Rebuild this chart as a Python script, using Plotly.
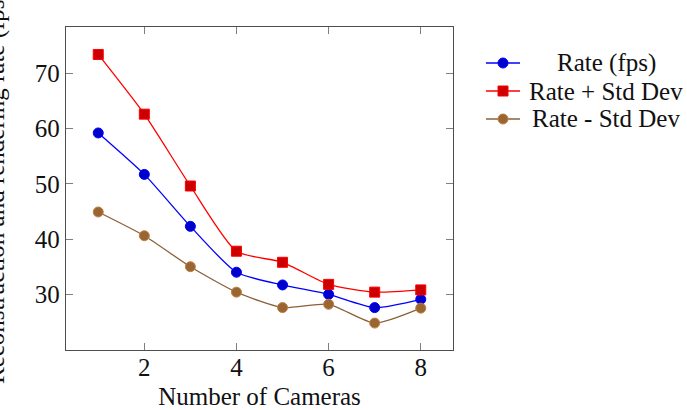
import plotly.graph_objects as go

cameras = [1, 2, 3, 4, 5, 6, 7, 8]
rate = [59.2, 51.7, 42.3, 34.0, 31.7, 30.0, 27.6, 29.1]
rate_plus = [73.4, 62.6, 49.6, 37.8, 35.8, 31.8, 30.4, 30.8]
rate_minus = [44.9, 40.6, 35.0, 30.4, 27.6, 28.2, 24.8, 27.5]

series_names = ["Rate (fps)", "Rate + Std Dev", "Rate - Std Dev"]
x_ticks = [2, 4, 6, 8]
y_ticks = [30, 40, 50, 60, 70]

FONT = "serif"
FS = 25

styles = [
    dict(line="#0000ff", fill="#0000cc", edge="#0000ff", symbol="circle"),
    dict(line="#ff0000", fill="#cc0000", edge="#ff0000", symbol="square"),
    dict(line="#8b6038", fill="#996633", edge="#bf8040", symbol="circle"),
]

fig = go.Figure()
for name, ys, st in zip(series_names, [rate, rate_plus, rate_minus], styles):
    fig.add_trace(go.Scatter(
        x=cameras, y=ys, name=name, mode="lines+markers", showlegend=False,
        line=dict(color=st["line"], width=1.3, shape="spline", smoothing=0.6),
        marker=dict(symbol=st["symbol"], size=10, color=st["fill"],
                    line=dict(color=st["edge"], width=1)),
    ))

axis_common = dict(
    showgrid=False, zeroline=False, showline=True, linecolor="#4d4d4d", linewidth=1.3,
    mirror="allticks", ticks="inside", ticklen=7, tickcolor="#7f7f7f", tickwidth=1,
    tickfont=dict(family=FONT, size=FS, color="#111"), automargin=False,
)

L, R, T, B = 66, 234, 27, 60
W, H = 687, 410
PW, PH = W - L - R, H - T - B

def px(xp):
    return (xp - L) / PW

def py(yp):
    return 1 - (yp - T) / PH

fig.update_layout(
    width=W, height=H,
    margin=dict(l=L, r=R, t=T, b=B, autoexpand=False),
    paper_bgcolor="white", plot_bgcolor="white",
    font=dict(family=FONT, size=FS, color="#111"),
    xaxis=dict(range=[0.3, 8.7], tickvals=x_ticks, ticklabelstandoff=-5,
               title=dict(text="Number of Cameras", font=dict(family=FONT, size=FS), standoff=10),
               **axis_common),
    yaxis=dict(range=[19.93, 78.37], tickvals=y_ticks, **axis_common),
    showlegend=False,
)

# y axis title (partly cut off at the left edge, as in the reference)
fig.add_annotation(
    text="Reconstruction and rendering rate (fps)", textangle=-90,
    xref="paper", yref="paper", x=px(-4), y=py(188), xanchor="center", yanchor="middle",
    showarrow=False, font=dict(family=FONT, size=FS, color="#111"),
)

# manual legend (centered text like pgfplots)
rows = [63, 91, 119]
for name, st, ry in zip(series_names, styles, rows):
    fig.add_shape(type="line", xref="paper", yref="paper",
                  x0=px(486), x1=px(520), y0=py(ry), y1=py(ry),
                  line=dict(color=st["line"], width=1.3))
    r = 5
    fig.add_shape(type="circle" if st["symbol"] == "circle" else "rect",
                  xref="paper", yref="paper",
                  x0=px(503 - r), x1=px(503 + r), y0=py(ry - r), y1=py(ry + r),
                  fillcolor=st["fill"], line=dict(color=st["edge"], width=1))
    fig.add_annotation(text=name, xref="paper", yref="paper", x=px(606), y=py(ry),
                       xanchor="center", yanchor="middle", showarrow=False,
                       font=dict(family=FONT, size=FS, color="#111"))

fig.write_html("out.html")
